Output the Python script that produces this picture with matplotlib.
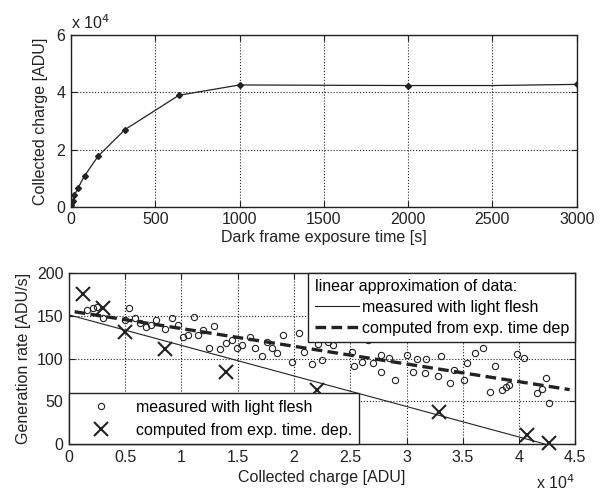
import numpy as np
import matplotlib
matplotlib.use("Agg")
import matplotlib.pyplot as plt
from matplotlib.lines import Line2D

plt.rcParams['font.family'] = ['Liberation Sans', 'DejaVu Sans']
plt.rcParams['font.size'] = 11.5

# top panel: collected charge (x 10^4 ADU) vs dark frame exposure time (s)
exp_time = [0, 10, 20, 40, 80, 160, 320, 640, 1000, 2000, 2500, 3000]
charge = [0.05, 0.2, 0.4, 0.65, 1.08, 1.77, 2.7, 3.9, 4.26, 4.24, 4.24, 4.28]
marked = [1, 1, 1, 1, 1, 1, 1, 1, 1, 1, 0, 1]

# bottom panel: generation rate (ADU/s) vs collected charge (x 10^4 ADU)
meas_x = [0.163, 0.21, 0.25, 0.305, 0.498, 0.537, 0.587, 0.632, 0.685, 0.73,
          0.77, 0.854, 0.914, 0.97, 1.01, 1.056, 1.115, 1.15, 1.195, 1.245,
          1.29, 1.343, 1.40, 1.447, 1.49, 1.536, 1.61, 1.655, 1.714, 1.76,
          1.80, 1.85, 1.90, 1.98, 2.04, 2.085, 2.16, 2.21, 2.25, 2.30,
          2.35, 2.515, 2.53, 2.60, 2.66, 2.70, 2.77, 2.77, 2.84, 2.90,
          3.0, 3.06, 3.09, 3.16, 3.17, 3.28, 3.31, 3.39, 3.42, 3.51,
          3.54, 3.61, 3.68, 3.745, 3.79, 3.85, 3.88, 3.91, 3.98, 4.04,
          4.16, 4.205, 4.24, 4.27]
meas_y = [156.7, 159.4, 160.6, 147, 145, 158.7, 147, 141, 137, 139,
          145, 135, 147, 139, 125.5, 127.5, 149, 127.5, 133, 112.6,
          138, 111, 118.5, 121.6, 112, 115.8, 125.5, 112.6, 103, 119.7,
          112, 107, 128, 95.5, 129.5, 108, 94, 116.6, 98, 119.7,
          115.8, 108, 91, 96, 121.6, 94.4, 84.6, 104, 101, 74.5,
          104, 84.6, 99, 82.7, 99, 79.5, 102.5, 71, 86.5, 75,
          94.4, 106.5, 112.5, 60.5, 91.5, 63, 67, 69.5, 105.5, 100.5,
          59.5, 64.5, 77.5, 48.3]
comp_x = [0.122, 0.305, 0.498, 0.854, 1.40, 2.20, 3.29, 4.07, 4.27]
comp_y = [176, 158.7, 131, 110.7, 84.6, 63.5, 37.8, 10.5, 0.8]

# linear fits: (x start, x end), intercept, slope
fit_meas = (0.0, 4.5, 151.0, -35.7)
fit_comp = (0.05, 4.45, 155.7, -20.7)

ink = '#222222'

fig = plt.figure(figsize=(6.02, 4.95), dpi=100)
ax1 = fig.add_axes([0.118, 0.582, 0.840, 0.347])
ax2 = fig.add_axes([0.1146, 0.103, 0.841, 0.3455])

def matlab_style(ax):
    ax.grid(True, linestyle=':', color=ink, linewidth=0.8)
    ax.tick_params(direction='in', top=True, right=True, length=4,
                   color=ink, labelcolor=ink, labelsize=11.5, pad=4)
    for s in ax.spines.values():
        s.set_color(ink)
        s.set_linewidth(1.0)

# top plot
ax1.plot(exp_time, charge, color=ink, lw=0.9)
mt = [t for t, m in zip(exp_time, marked) if m]
mc = [c for c, m in zip(charge, marked) if m]
ax1.plot(mt, mc, ls='none', marker='D', ms=3, color=ink)
ax1.set_xlim(0, 3000)
ax1.set_ylim(0, 6)
ax1.set_xticks(np.arange(0, 3001, 500))
ax1.set_yticks([0, 2, 4, 6])
matlab_style(ax1)
ax1.set_xlabel('Dark frame exposure time [s]', color=ink, labelpad=2)
ax1.set_ylabel('Collected charge [ADU]', color=ink, labelpad=6)
ax1.text(0.0, 1.02, r'x 10$^4$', transform=ax1.transAxes, ha='left',
         va='bottom', color=ink, fontsize=11.5)

# bottom plot
xs = np.array(fit_meas[:2])
ax2.plot(xs, fit_meas[2] + fit_meas[3] * xs, color=ink, lw=0.8)
xs = np.array(fit_comp[:2])
ax2.plot(xs, fit_comp[2] + fit_comp[3] * xs, color=ink, lw=2.4,
         dashes=(3.2, 1.6))
ax2.plot(meas_x, meas_y, ls='none', marker='o', ms=4.5, mfc='none',
         mec=ink, mew=0.8)
ax2.plot(comp_x, comp_y, ls='none', marker='x', ms=10, mec=ink, mew=1.5,
         clip_on=False)
ax2.set_xlim(0, 4.5)
ax2.set_ylim(0, 200)
ax2.set_xticks(np.arange(0, 4.51, 0.5))
ax2.set_xticklabels(['%g' % v for v in np.arange(0, 4.51, 0.5)])
ax2.set_yticks(np.arange(0, 201, 50))
matlab_style(ax2)
ax2.set_xlabel('Collected charge [ADU]', color=ink, labelpad=4)
ax2.set_ylabel('Generation rate [ADU/s]', color=ink, labelpad=4)
fig.text(0.955, 0.006, r'x 10$^4$', ha='right', va='bottom', color=ink,
         fontsize=11.5)

h_fit = [Line2D([], [], color=ink, lw=0.8),
         Line2D([], [], color=ink, lw=2.4, dashes=(3.2, 1.6))]
leg1 = ax2.legend(h_fit, ['measured with light flesh',
                          'computed from exp. time dep'],
                  title='linear approximation of data:', alignment='left',
                  loc='upper right', borderaxespad=0, fancybox=False,
                  framealpha=1, edgecolor=ink, handlelength=2.8,
                  handletextpad=0.15, labelspacing=0.35, borderpad=0.4,
                  fontsize=11.5, title_fontsize=11.5)
leg1.get_frame().set_linewidth(1.0)
leg1._legend_box.sep = 4
ax2.add_artist(leg1)

h_pts = [Line2D([], [], ls='none', marker='o', ms=4.5, mfc='none',
                mec=ink, mew=0.8),
         Line2D([], [], ls='none', marker='x', ms=10, mec=ink, mew=1.5)]
leg2 = ax2.legend(h_pts, ['measured with light flesh',
                          'computed from exp. time. dep.'],
                  loc='lower left', borderaxespad=0, fancybox=False,
                  framealpha=1, edgecolor=ink, handlelength=3.2,
                  handletextpad=0.6, labelspacing=0.5, borderpad=0.4,
                  fontsize=11.5)
leg2.get_frame().set_linewidth(1.0)

fig.savefig('out.png', dpi=100)
